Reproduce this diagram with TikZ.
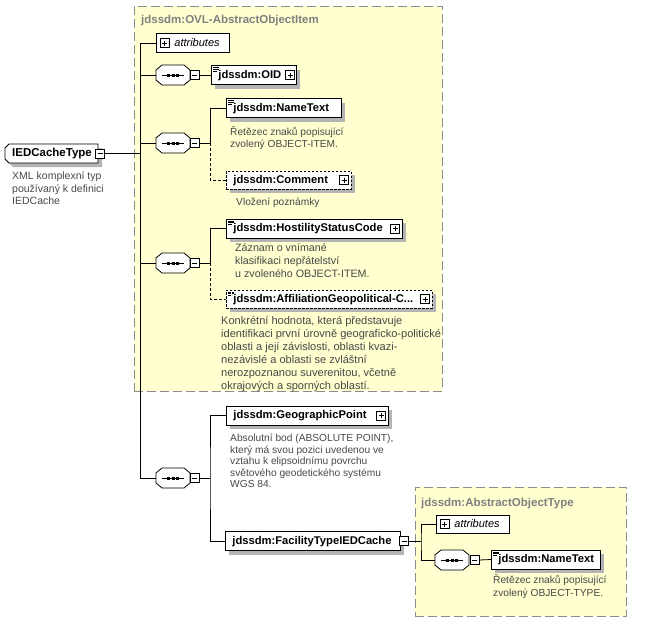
\documentclass[tikz,border=0pt]{standalone}
\usepackage{fontspec}
\setmainfont{Liberation Sans}
\usetikzlibrary{shadows}
\definecolor{grpfill}{RGB}{255,255,208}
\definecolor{grpline}{RGB}{140,140,140}
\definecolor{shadowc}{RGB}{180,180,180}
\definecolor{desctext}{RGB}{72,72,72}
\definecolor{titletext}{RGB}{128,128,128}
\pgfdeclarelayer{grp}
\pgfdeclarelayer{lines}
\pgfsetlayers{grp,lines,main}
\begin{document}
\begin{tikzpicture}[x=1pt,y=-1pt,
  shadowed/.style={drop shadow={shadow xshift=4pt,shadow yshift=-4pt,fill=shadowc,opacity=1}},
  group/.style={draw=grpline,fill=grpfill,line width=0.8pt,dash pattern=on 9pt off 4pt,anchor=north west,inner sep=0pt},
  grouptitle/.style={anchor=base west,inner sep=0pt,text=titletext,font=\bfseries\fontsize{11.5}{13}\selectfont},
  elembox/.style={draw,fill=white,line width=0.8pt,anchor=west,inner xsep=7pt,inner ysep=0pt,minimum height=19pt,align=left,text height=8.5pt,text depth=2.5pt,font=\bfseries\fontsize{11.2}{13}\selectfont,shadowed},
  attrbox/.style={draw,fill=white,line width=0.8pt,anchor=west,inner xsep=7pt,inner ysep=0pt,minimum height=19pt,align=left,text height=8.5pt,text depth=2.5pt,font=\itshape\fontsize{11}{13}\selectfont},
  optional/.style={dash pattern=on 2.5pt off 1.5pt},
  texticon/.style={path picture={
     \draw[line width=0.5pt] ([xshift=2pt,yshift=-1.8pt]path picture bounding box.north west) -- ++(6pt,0pt);
     \draw[line width=0.5pt] ([xshift=2pt,yshift=-3.6pt]path picture bounding box.north west) -- ++(6pt,0pt);
     \draw[line width=0.5pt] ([xshift=2pt,yshift=-5.4pt]path picture bounding box.north west) -- ++(4pt,0pt);}},
  seqnode/.style={minimum width=34pt,minimum height=20pt,inner sep=0pt},
  octo/.style={line width=0.8pt},
  mbox/.style={draw,fill=white,line width=0.6pt,minimum size=9pt,inner sep=0pt,path picture={\draw[line width=0.6pt] ([xshift=2pt]path picture bounding box.west) -- ([xshift=-2pt]path picture bounding box.east);}},
  pbox/.style={draw,fill=white,line width=0.6pt,minimum size=9pt,inner sep=0pt,path picture={\draw[line width=0.6pt] ([xshift=2pt]path picture bounding box.west) -- ([xshift=-2pt]path picture bounding box.east); \draw[line width=0.6pt] ([yshift=-2pt]path picture bounding box.north) -- ([yshift=2pt]path picture bounding box.south);}},
  desc/.style={anchor=base west,inner sep=0pt,align=left,text=desctext,font=\fontsize{10.2}{12.5}\selectfont},
  conn/.style={line width=0.8pt},
  optline/.style={line width=0.8pt,dash pattern=on 3pt off 2pt},
]
\useasboundingbox (0,0) rectangle (660,627);

% groups
\begin{pgfonlayer}{grp}
\node[group,minimum width=308pt,minimum height=385pt] (grp1) at (134,6) {};
\node[group,minimum width=211pt,minimum height=129pt] (grp2) at (415,487) {};
\end{pgfonlayer}
\node[grouptitle] (grp1title) at (141,23) {jdssdm:OVL-AbstractObjectItem};
\node[grouptitle] (grp2title) at (421,506) {jdssdm:AbstractObjectType};

% root type (outline with cut left corners)
\fill[shadowc] (13,148) -- (17,148) -- (102,148) -- (102,167) -- (13,167) -- (9,163) -- (9,152) -- cycle;
\filldraw[fill=white,line width=0.8pt] (9,144) -- (98,144) -- (98,163) -- (9,163) -- (5,159) -- (5,148) -- cycle;
\node[anchor=west,inner xsep=7pt,inner ysep=0pt,minimum width=93pt,minimum height=19pt,text height=8.5pt,text depth=2.5pt,font=\bfseries\fontsize{11.5}{13}\selectfont] (ied) at (5,153.5) {IEDCacheType\hspace*{14pt}};
\node[mbox] (iedm) at (100,153.5) {};
\node[desc,font=\fontsize{10.5}{12.5}\selectfont] (dIED) at (12,204.5) {XML komplexní typ\\používaný k definici\\IEDCache};

% sequence compositors
\node[seqnode] (s1) at (173,75) {};
\node[seqnode] (s2) at (173,143) {};
\node[seqnode] (s3) at (173,263) {};
\node[seqnode] (s4) at (173,478) {};
\node[seqnode] (s5) at (452,560) {};
\foreach \s in {s1,s2,s3,s4,s5}{
  \fill[shadowc,shift={(4pt,-4pt)}] ([shift={(-17pt,5pt)}]\s.center) -- ([shift={(-11pt,10pt)}]\s.center) -- ([shift={(11pt,10pt)}]\s.center) -- ([shift={(17pt,5pt)}]\s.center) -- ([shift={(17pt,-5pt)}]\s.center) -- ([shift={(11pt,-10pt)}]\s.center) -- ([shift={(-11pt,-10pt)}]\s.center) -- ([shift={(-17pt,-5pt)}]\s.center) -- cycle;
  \filldraw[fill=white,octo] ([shift={(-17pt,5pt)}]\s.center) -- ([shift={(-11pt,10pt)}]\s.center) -- ([shift={(11pt,10pt)}]\s.center) -- ([shift={(17pt,5pt)}]\s.center) -- ([shift={(17pt,-5pt)}]\s.center) -- ([shift={(11pt,-10pt)}]\s.center) -- ([shift={(-11pt,-10pt)}]\s.center) -- ([shift={(-17pt,-5pt)}]\s.center) -- cycle;
  \draw[line width=0.8pt] ([xshift=-11pt]\s.center) -- ([xshift=11pt]\s.center);
  \foreach \d in {-4.5,0,4.5}
    \fill ([xshift=\d pt]\s.center) +(-1.5pt,-1.5pt) rectangle +(1.5pt,1.5pt);
}
\node[mbox] (m1) at (194.5,75) {};
\node[mbox] (m2) at (194.5,143) {};
\node[mbox] (m3) at (194.5,263) {};
\node[mbox] (m4) at (194.5,478) {};
\node[mbox] (m5) at (474.5,560) {};

% attributes
\node[attrbox,text width=59pt] (attr1) at (156,43) {\hspace*{11pt}attributes};
\node[pbox] (attr1p) at (164.5,43) {};

% sequence 1
\node[elembox,texticon,text width=71pt] (oid) at (211,75) {jdssdm:OID};
\node[pbox] (oidp) at (290,75) {};

% sequence 2
\node[elembox,texticon,text width=101pt] (nametext) at (226,108) {jdssdm:NameText};
\node[desc,font=\fontsize{10.2}{12}\selectfont] (dname) at (230,147.5) {Řetězec znaků popisující\\zvolený OBJECT-ITEM.};
\node[elembox,optional,minimum height=18pt,text width=111pt] (comment) at (226,180) {jdssdm:Comment};
\node[pbox] (commentp) at (344,180) {};
\node[desc] (dcomment) at (236,205) {Vložení poznámky};

% sequence 3
\node[elembox,texticon,text width=162pt] (host) at (226,228.5) {jdssdm:HostilityStatusCode};
\node[pbox] (hostp) at (395,228.5) {};
\node[desc,font=\fontsize{10.7}{13}\selectfont] (dhost) at (235,277.5) {Záznam o vnímané\\klasifikaci nepřátelství\\u zvoleného OBJECT-ITEM.};
\node[elembox,texticon,optional,minimum height=18pt,text width=192pt] (affil) at (226,299) {jdssdm:AffiliationGeopolitical-C...};
\node[pbox] (affilp) at (425,299) {};
\node[desc,font=\fontsize{11.05}{13}\selectfont] (daffil) at (221,389.5) {Konkrétní hodnota, která představuje\\identifikaci první úrovně geograficko-politické\\oblasti a její závislosti, oblasti kvazi-\\nezávislé a oblasti se zvláštní\\nerozpoznanou suverenitou, včetně\\okrajových a sporných oblastí.};

% sequence 4
\node[elembox,text width=148pt] (geo) at (226,415.5) {jdssdm:GeographicPoint};
\node[pbox] (geop) at (381,415.5) {};
\node[desc,font=\fontsize{10.2}{11.6}\selectfont] (dgeo) at (230,487.9) {Absolutní bod (ABSOLUTE POINT),\\který má svou pozici uvedenou ve\\vztahu k elipsoidnímu povrchu\\světového geodetického systému\\WGS 84.};
\node[elembox,text width=161pt] (fac) at (225,541) {jdssdm:FacilityTypeIEDCache};
\node[mbox] (facm) at (404,541) {};

% AbstractObjectType content
\node[attrbox,minimum height=18pt,text width=59pt] (attr2) at (436,524) {\hspace*{11pt}attributes};
\node[pbox] (attr2p) at (444.5,524) {};
\node[elembox,texticon,text width=95pt] (nametext2) at (491,559.5) {jdssdm:NameText};
\node[desc,font=\fontsize{10.2}{12.5}\selectfont] (dname2) at (493,596) {Řetězec znaků popisující\\zvolený OBJECT-TYPE.};

% connectors
\coordinate (t1) at (140,153.5);
\coordinate (j2) at (210,143);
\coordinate (j3) at (210,263);
\coordinate (j4) at (210,478);
\coordinate (k1) at (421,541);
\begin{pgfonlayer}{lines}
\draw[conn] (iedm.east) -- (t1);
\draw[conn] (attr1.west) -- (attr1.west -| t1) -- (s4.west -| t1) -- (s4.west);
\foreach \s in {s1,s2,s3} \draw[conn] (\s.west -| t1) -- (\s.west);
\draw[conn] (m1.east) -- (oid.west);
\draw[conn] (m2.east) -- (j2) |- (nametext.west);
\draw[optline] (j2) |- (comment.west);
\draw[conn] (m3.east) -- (j3) |- (host.west);
\draw[optline] (j3) |- (affil.west);
\draw[conn] (m4.east) -- (j4);
\draw[conn] (geo.west) -| (j4) |- (fac.west);
\draw[conn] (facm.east) -- (k1);
\draw[conn] (attr2.west) -| (k1) |- (s5.west);
\draw[conn] (m5.east) -- (nametext2.west);
\end{pgfonlayer}
\end{tikzpicture}
\end{document}
